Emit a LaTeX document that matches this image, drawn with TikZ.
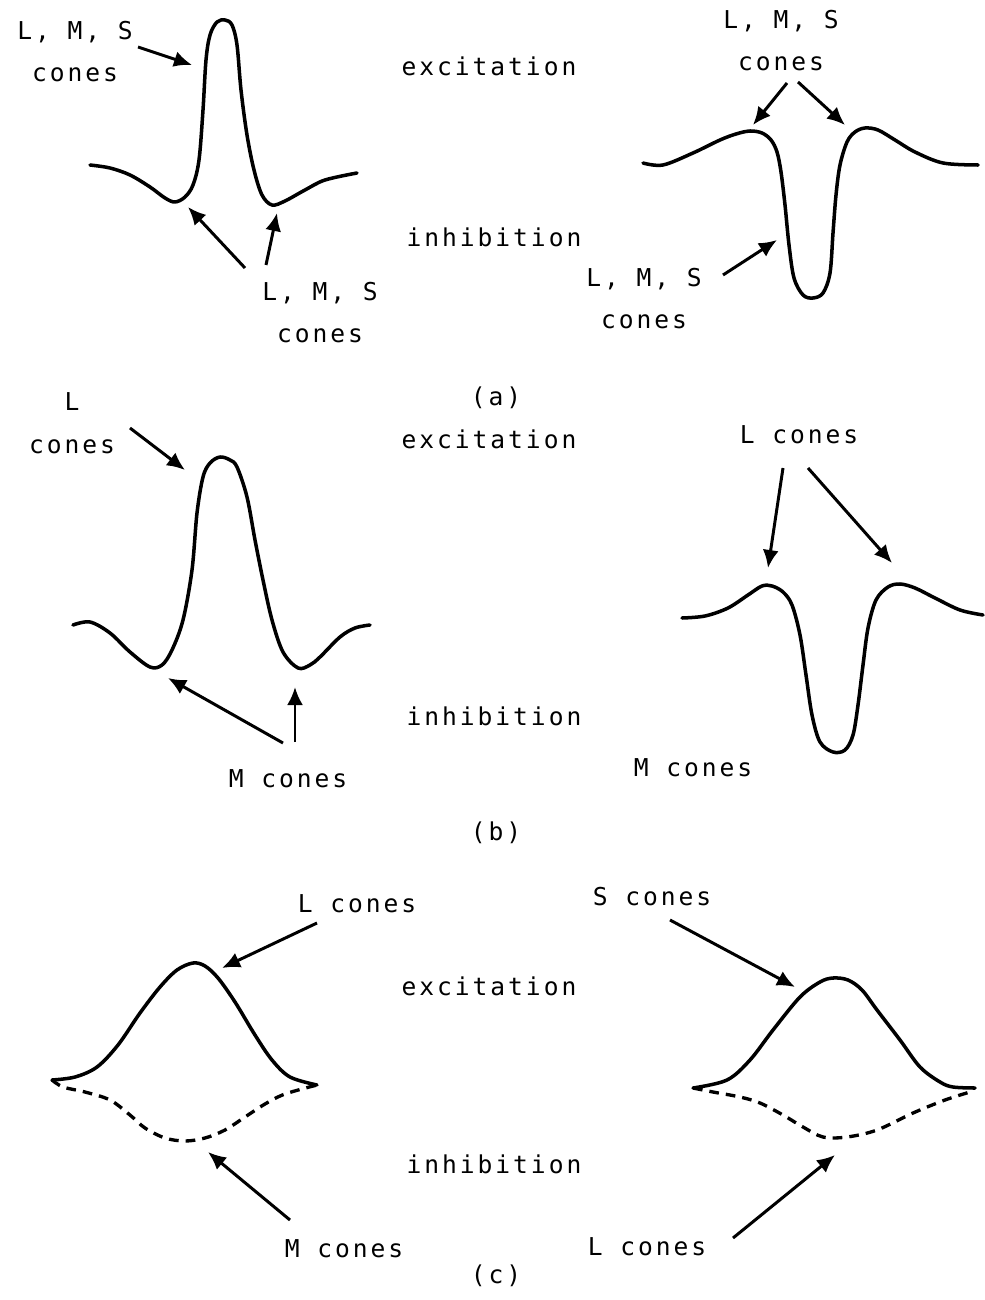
\documentclass[tikz,border=0pt]{standalone}
\usepackage{fontspec}
\newfontfamily\monolbl[LetterSpace=12]{DejaVu Sans Mono}
\newcommand\lbl{\monolbl\fontsize{14pt}{24pt}\selectfont}
\usepackage{tikz}
\usetikzlibrary{arrows.meta}

\begin{document}
\begin{tikzpicture}[x=0.02cm, y=-0.02cm,
	every node/.style={font=\lbl, align=center, inner sep=0pt, anchor=base},
	>={Latex[length=3.6mm, width=3.2mm]},
	curve/.style={line width=2pt, line join=round, line cap=round},
	dashcurve/.style={line width=1.9pt, dash pattern=on 5.5pt off 4pt},
	pointer/.style={->, line width=1.7pt}]
	\useasboundingbox (0,0) rectangle (984,1300);
	% middle column
	\foreach \p/\ye/\yi/\yc/\cap in {A/76/247/405/a, B/448/725/840/b, C/995/1173/1283/c} {
		\node (exc\p) at (489,\ye) {excitation};
		\node (inh\p) at (494,\yi) {inhibition};
		\node (cap\p) at (496,\yc) {(\cap)};
	}
	% (a)
	\draw[curve] plot[smooth, tension=0.55] coordinates {(90,165) (110,168) (130,175) (150,187) (165,198) (175,202) (185,197) (193,185) (199,160) (203,110) (206,60) (210,35) (217,22) (225,20) (232,25) (237,45) (241,90) (247,135) (254,170) (262,195) (272,205) (285,201) (305,190) (325,180) (357,173)};
	\draw[curve] plot[smooth, tension=0.55] coordinates {(643,163) (663,165) (693,153) (720,140) (736,134) (750,131) (762,133) (771,140) (777,152) (781,172) (785,205) (789,245) (794,278) (803,295) (813,298) (823,293) (830,273) (833,233) (836,195) (840,165) (847,142) (855,132) (865,128) (878,130) (895,140) (915,152) (943,163) (978,165)};
	\node (aLeftPeak) at (75,82) {L, M, S\\cones};
	\node (aLeftSurr) at (320,343) {L, M, S\\cones};
	\node (aRightSurr) at (781,71) {L, M, S\\cones};
	\node (aRightCtr) at (644,329) {L, M, S\\cones};
	\coordinate (aLpkT) at (138,47);   \coordinate (aLpk) at (192,65);
	\coordinate (aLs1T) at (245,268);  \coordinate (aLs1) at (188,207);
	\coordinate (aLs2T) at (266,265);  \coordinate (aLs2) at (277,213);
	\coordinate (aRs1T) at (787,83);   \coordinate (aRs1) at (753,125);
	\coordinate (aRs2T) at (798,82);   \coordinate (aRs2) at (845,125);
	\coordinate (aRcT) at (723,275);   \coordinate (aRc) at (777,240);
	% (b)
	\draw[curve] plot[smooth, tension=0.55] coordinates {(73,625) (90,622) (110,633) (130,652) (150,667) (162,665) (172,650) (183,620) (192,570) (197,513) (203,477) (210,463) (220,457) (230,460) (237,467) (247,497) (255,540) (263,580) (272,620) (283,652) (298,668) (310,665) (320,657) (340,637) (355,628) (370,625)};
	\draw[curve] plot[smooth, tension=0.55] coordinates {(682,618) (705,616) (728,608) (748,595) (762,586) (772,586) (783,592) (792,605) (800,635) (806,675) (812,715) (820,742) (833,752) (845,750) (853,735) (858,705) (863,665) (868,628) (876,600) (888,587) (900,584) (915,588) (935,598) (960,610) (983,615)};
	\node (bLeftCtr) at (72,453) {L\\cones};
	\node (bLeftSurr) at (288,787) {M cones};
	\node (bRightSurr) at (799,443) {L cones};
	\node (bRightCtr) at (693,776) {M cones};
	\coordinate (bLpkT) at (130,428);  \coordinate (bLpk) at (185,470);
	\coordinate (bLs1T) at (283,743);  \coordinate (bLs1) at (168,678);
	\coordinate (bLs2T) at (295,742);  \coordinate (bLs2) at (295,687);
	\coordinate (bRs1T) at (783,468);  \coordinate (bRs1) at (768,568);
	\coordinate (bRs2T) at (808,468);  \coordinate (bRs2) at (892,563);
	% (c)
	\draw[curve] plot[smooth, tension=0.55] coordinates {(52,1080) (75,1077) (97,1067) (118,1045) (140,1013) (160,987) (177,970) (193,963) (205,966) (218,978) (235,1002) (255,1035) (272,1060) (290,1077) (317,1085)};
	\draw[dashcurve] plot[smooth, tension=0.55] coordinates {(52,1080) (63,1087) (85,1092) (110,1100) (130,1115) (145,1128) (165,1138) (185,1141) (205,1138) (225,1130) (245,1117) (265,1104) (285,1094) (317,1085)};
	\draw[curve] plot[smooth, tension=0.55] coordinates {(693,1088) (727,1080) (750,1060) (773,1030) (800,997) (820,982) (833,978) (848,980) (862,990) (877,1010) (900,1040) (920,1067) (940,1082) (953,1087) (975,1088)};
	\draw[dashcurve] plot[smooth, tension=0.55] coordinates {(693,1088) (713,1092) (740,1097) (760,1103) (783,1115) (803,1127) (823,1137) (847,1137) (877,1130) (913,1113) (945,1100) (970,1092)};
	\node (cLeftExc) at (357,912) {L cones};
	\node (cLeftInh) at (344,1257) {M cones};
	\node (cRightExc) at (652,905) {S cones};
	\node (cRightInh) at (647,1255) {L cones};
	\coordinate (cLeT) at (317,923);   \coordinate (cLe) at (222,968);
	\coordinate (cLiT) at (290,1220);  \coordinate (cLi) at (208,1152);
	\coordinate (cReT) at (670,920);   \coordinate (cRe) at (795,987);
	\coordinate (cRiT) at (733,1238);  \coordinate (cRi) at (835,1155);
	% pointers
	\foreach \a in {aLpk, aLs1, aLs2, aRs1, aRs2, aRc, bLpk, bLs1, bLs2, bRs1, bRs2, cLe, cLi, cRe, cRi} {
		\draw[pointer] (\a T) -- (\a);
	}
\end{tikzpicture}
\end{document}
